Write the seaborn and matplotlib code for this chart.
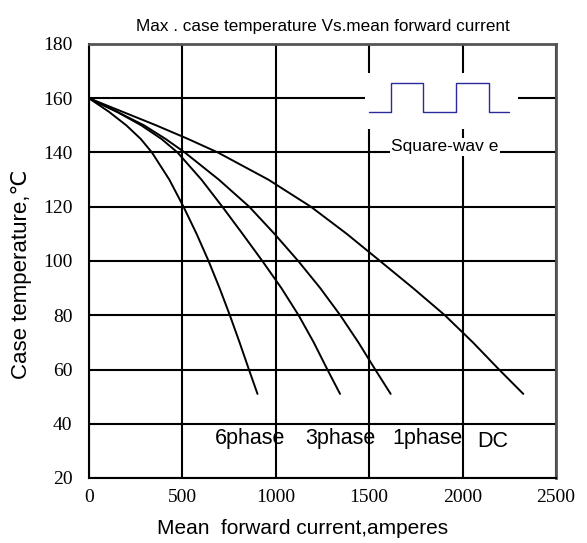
import matplotlib
matplotlib.use("Agg")
import matplotlib.pyplot as plt
from matplotlib.patches import Rectangle
import pandas as pd
import seaborn as sns

# curves: case temperature (C) and mean forward current (A)
temps = [160, 155, 150, 145, 140, 130, 120, 110, 100, 90, 80, 70, 60, 51]
phase6_current = [0, 107, 200, 277, 337, 430, 506, 576, 640, 699, 754, 806, 856, 902]
phase3_current = [0, 150, 280, 388, 474, 602, 714, 822, 928, 1030, 1122, 1203, 1276, 1344]
phase1_current = [0, 150, 295, 410, 513, 695, 858, 993, 1120, 1238, 1345, 1442, 1532, 1615]
dc_current = [0, 180, 360, 530, 690, 960, 1188, 1380, 1558, 1735, 1905, 2055, 2195, 2325]

# square wave symbol in the top right corner
wave_x = [1500, 1615, 1615, 1786, 1786, 1966, 1966, 2139, 2139, 2251]
wave_y = [155, 155, 165.5, 165.5, 155, 155, 165.5, 165.5, 155, 155]

curve_labels = ["6phase", "3phase", "1phase", "DC"]
label_x = [675, 1156, 1622, 2077]
label_y = [34.7, 34.7, 34.7, 33.4]

x_ticks = [0, 500, 1000, 1500, 2000, 2500]
y_ticks = [20, 40, 60, 80, 100, 120, 140, 160, 180]

frames = []
for name, xs in [
    ("6phase", phase6_current),
    ("3phase", phase3_current),
    ("1phase", phase1_current),
    ("DC", dc_current),
]:
    frames.append(pd.DataFrame({"current": xs, "temp": temps, "curve": name}))
df = pd.concat(frames, ignore_index=True)

sns.set_style("white")
sans = "Liberation Sans"
serif = "Liberation Serif"
plt.rcParams["font.family"] = [sans, "DejaVu Sans"]
plt.rcParams.update({
    "text.color": "black",
    "axes.labelcolor": "black",
    "xtick.color": "black",
    "ytick.color": "black",
})

fig = plt.figure(figsize=(5.87, 5.43), dpi=100)
ax = fig.add_axes([89 / 587, 1 - 478 / 543, 467 / 587, 434 / 543])

ax.set_xlim(0, 2500)
ax.set_ylim(20, 180)
ax.set_xticks(x_ticks)
ax.set_yticks(y_ticks)
ax.grid(True, color="black", linewidth=1.5)
ax.set_axisbelow(True)

# white patch that breaks the grid behind the square-wave symbol
ax.add_patch(Rectangle((1478, 148.7), 2297 - 1478, 169.3 - 148.7,
                       facecolor="white", edgecolor="none", zorder=1))

sns.lineplot(data=df, x="current", y="temp", units="curve", estimator=None,
             sort=False, color="black", linewidth=1.4, ax=ax, zorder=3)
sns.lineplot(x=wave_x, y=wave_y, sort=False, estimator=None,
             color="#2a2a9a", linewidth=1.0, ax=ax, zorder=3)

ax.text(1906, 142.1, "Square-wav e", ha="center", va="center", fontsize=12.5,
        zorder=4, bbox=dict(facecolor="white", edgecolor="none", pad=1))
for lab, lx, ly in zip(curve_labels, label_x, label_y):
    ax.text(lx, ly, lab, ha="left", va="center", fontsize=15.5, zorder=4)

for side in ["left", "bottom"]:
    ax.spines[side].set_color("black")
    ax.spines[side].set_linewidth(1.5)
for side in ["top", "right"]:
    ax.spines[side].set_color("#555555")
    ax.spines[side].set_linewidth(2)

ax.tick_params(axis="both", length=0, labelsize=14)
ax.tick_params(axis="y", pad=12)
ax.tick_params(axis="x", pad=8)
for lab in ax.get_xticklabels() + ax.get_yticklabels():
    lab.set_fontfamily(serif)

ax.set_xlabel("Mean  forward current,amperes", fontsize=15)
ax.set_ylabel("Case temperature,℃", fontsize=16)
ax.xaxis.set_label_coords(0.457, -0.0945)
ax.yaxis.set_label_coords(-0.122, 0.47)
ax.set_title("Max . case temperature Vs.mean forward current",
             fontsize=12.3, pad=9)

fig.savefig("out.png", dpi=100)
